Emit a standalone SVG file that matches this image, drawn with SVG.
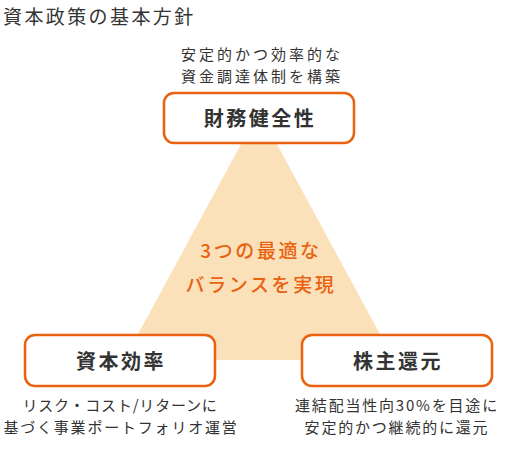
<svg xmlns="http://www.w3.org/2000/svg" width="505" height="450" viewBox="0 0 505 450">
<style>
text{font-family:"Noto Sans CJK JP","Noto Sans",sans-serif;fill:#333;}
.title{font-size:19px;letter-spacing:2.4px;}
.note{font-size:15px;text-anchor:middle;}
.box{fill:#fff;stroke:#E8620F;stroke-width:2.5;}
.label{font-size:20px;font-weight:bold;text-anchor:middle;letter-spacing:2.5px;}
.center{font-size:19px;fill:#E8620F;text-anchor:middle;letter-spacing:2.6px;font-weight:500;}
</style>
<rect width="505" height="450" fill="#fff"/>
<text class="title" x="3" y="24">資本政策の基本方針</text>
<g id="connectors">
<polygon points="259,111 124,360 394,360" fill="#FBE1BA"/>
</g>
<text class="center" x="261" y="258">3つの最適な</text>
<text class="center" x="261" y="292">バランスを実現</text>
<g id="node-top">
<text class="note" x="262" y="60" letter-spacing="3">安定的かつ効率的な</text>
<text class="note" x="262" y="82" letter-spacing="3">資金調達体制を構築</text>
<rect class="box" x="164" y="93" width="190" height="50" rx="10"/>
<text class="label" x="260" y="126">財務健全性</text>
</g>
<g id="node-left">
<rect class="box" x="25" y="335" width="190" height="51" rx="10"/>
<text class="label" x="121" y="369">資本効率</text>
<text class="note" x="120" y="411" letter-spacing="0.8">リスク・コスト/リターンに</text>
<text class="note" x="121" y="433" letter-spacing="1.8">基づく事業ポートフォリオ運営</text>
</g>
<g id="node-right">
<rect class="box" x="302" y="335" width="190" height="51" rx="10"/>
<text class="label" x="398" y="369">株主還元</text>
<text class="note" x="397" y="411" letter-spacing="1.8">連結配当性向30%を目途に</text>
<text class="note" x="397" y="433" letter-spacing="1.8">安定的かつ継続的に還元</text>
</g>
</svg>
